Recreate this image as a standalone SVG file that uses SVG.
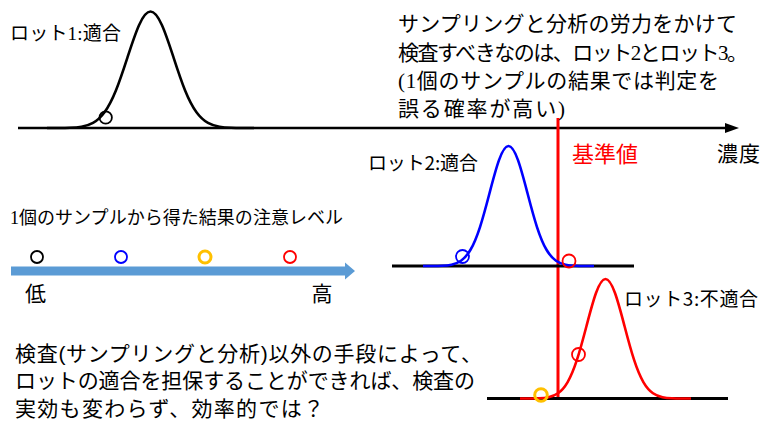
<svg xmlns="http://www.w3.org/2000/svg" xmlns:xlink="http://www.w3.org/1999/xlink" width="763" height="423" viewBox="0 0 763 423">
  <style>
    .serif { font-family: "Liberation Serif", "Noto Sans CJK JP", serif; fill: #000; }
    .sans { font-family: "Noto Sans CJK JP", "Liberation Sans", sans-serif; fill: #000; }
    .lsans { font-family: "Liberation Sans", "Noto Sans CJK JP", sans-serif; fill: #000; }
    .base { stroke: #000; stroke-width: 3; fill: none; }
    .pt { fill: none; stroke-width: 1.8; }
  </style>
  <defs>
    <path id="gauss" fill="none" stroke-width="2.6" vector-effect="non-scaling-stroke" stroke-linejoin="round"
      d="M-4.5,0 L-4,-0.000335 C-3.8333,-0.000558 -3.6667,-0.000912 -3.5,-0.002187 C-3.3333,-0.003462 -3.1667,-0.005554 -3,-0.011109 C-2.8333,-0.016664 -2.6667,-0.02563 -2.5,-0.043937 C-2.3333,-0.062244 -2.1667,-0.090223 -2,-0.135335 C-1.8333,-0.180447 -1.6667,-0.243489 -1.5,-0.324652 C-1.3333,-0.405815 -1.1667,-0.505442 -1,-0.606531 C-0.8333,-0.70762 -0.6667,-0.808955 -0.5,-0.882497 C-0.3333,-0.956039 -0.1667,-1 0,-1 C0.1667,-1 0.3333,-0.956039 0.5,-0.882497 C0.6667,-0.808955 0.8333,-0.70762 1,-0.606531 C1.1667,-0.505442 1.3333,-0.405815 1.5,-0.324652 C1.6667,-0.243489 1.8333,-0.180447 2,-0.135335 C2.1667,-0.090223 2.3333,-0.062244 2.5,-0.043937 C2.6667,-0.02563 2.8333,-0.016664 3,-0.011109 C3.1667,-0.005554 3.3333,-0.003462 3.5,-0.002187 C3.6667,-0.000912 3.8333,-0.000558 4,-0.000335 L4.5,0"/>
  </defs>

  <g id="connectors">
    <!-- concentration axis -->
    <line x1="18" y1="128" x2="727" y2="128" stroke="#000" stroke-width="2.6"/>
    <polygon points="725,123 739,128 725,133" fill="#000"/>
    <!-- reference value line -->
    <line x1="558" y1="118" x2="558" y2="399" stroke="#FF0000" stroke-width="3"/>
    <!-- caution level arrow -->
    <polygon points="11,266.5 345,266.5 345,262.5 355,271 345,279.5 345,275.5 11,275.5" fill="#5B9BD5"/>
  </g>

  <g id="lot1">
    <use xlink:href="#gauss" transform="translate(150.5,128) scale(23,116.5)" stroke="#000"/>
    <circle class="pt" cx="105.7" cy="117.5" r="6.2" stroke="#000"/>
    <text class="serif" x="10" y="40" font-size="19" textLength="111">ロット1:適合</text>
  </g>

  <g id="lot2">
    <line class="base" x1="392" y1="266" x2="634" y2="266"/>
    <use xlink:href="#gauss" transform="translate(508.5,266) scale(19,120)" stroke="#0000FF"/>
    <circle class="pt" cx="462.5" cy="256.5" r="6.5" stroke="#0000FF"/>
    <circle class="pt" cx="569" cy="261" r="6.5" stroke="#FF0000"/>
    <text class="sans" x="368" y="170" font-size="19" textLength="110">ロット2:適合</text>
  </g>

  <g id="lot3">
    <line class="base" x1="487" y1="398.5" x2="728" y2="398.5"/>
    <use xlink:href="#gauss" transform="translate(605.5,398.5) scale(19,119.5)" stroke="#FF0000"/>
    <circle class="pt" cx="578.5" cy="354.5" r="6.5" stroke="#FF0000"/>
    <circle cx="541" cy="395" r="6.3" fill="none" stroke="#FFC000" stroke-width="3"/>
    <text class="sans" x="624" y="306" font-size="19" textLength="134">ロット3:不適合</text>
  </g>

  <g id="reference">
    <text x="572" y="161.5" font-size="22" textLength="66" style="font-family:'Noto Sans CJK JP', sans-serif; fill:#FF0000">基準値</text>
  </g>

  <g id="axis-label">
    <text class="sans" x="717" y="161" font-size="21" textLength="43">濃度</text>
  </g>

  <g id="level-scale">
    <text class="serif" x="10" y="224" font-size="18" textLength="333">1個のサンプルから得た結果の注意レベル</text>
    <circle class="pt" cx="37" cy="257" r="6" stroke="#000"/>
    <circle class="pt" cx="121" cy="257" r="6" stroke="#0000FF"/>
    <circle cx="205" cy="257" r="6" fill="none" stroke="#FFC000" stroke-width="3"/>
    <circle class="pt" cx="290" cy="257" r="6" stroke="#FF0000"/>
    <text class="sans" x="25" y="300.5" font-size="21">低</text>
    <text class="sans" x="311.5" y="300.5" font-size="21">高</text>
  </g>

  <g id="note-top">
    <text class="serif" font-size="21">
      <tspan x="398" y="31.3" textLength="339">サンプリングと分析の労力をかけて</tspan>
      <tspan x="398" y="59.7" textLength="350">検査すべきなのは、ロット2とロット3。</tspan>
      <tspan x="398" y="88" textLength="321">(1個のサンプルの結果では判定を</tspan>
      <tspan x="398" y="116.3" textLength="167">誤る確率が高い)</tspan>
    </text>
  </g>

  <g id="note-bottom">
    <text class="lsans" font-size="21">
      <tspan x="15" y="361" textLength="467">検査(サンプリングと分析)以外の手段によって、</tspan>
      <tspan x="15" y="388" textLength="460">ロットの適合を担保することができれば、検査の</tspan>
      <tspan x="15" y="415.5" textLength="309">実効も変わらず、効率的では？</tspan>
    </text>
  </g>
</svg>
